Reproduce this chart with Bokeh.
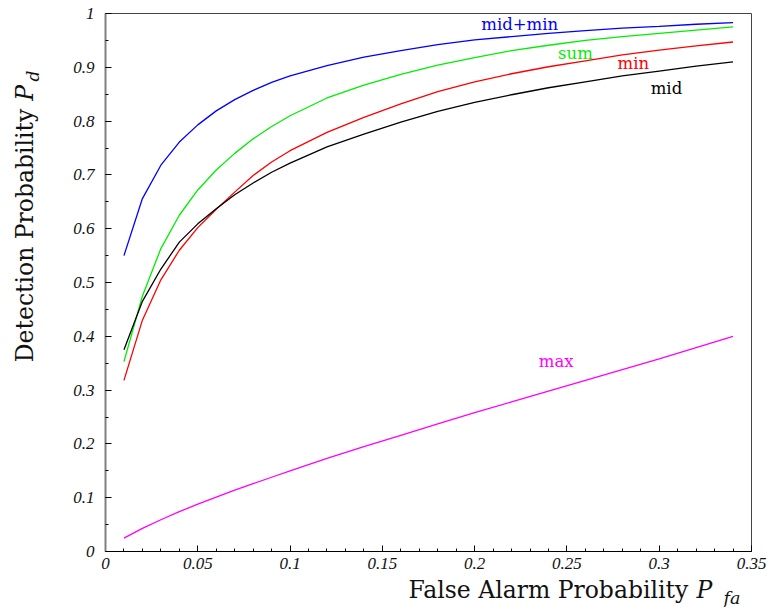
import math
from bokeh.plotting import figure
from bokeh.layouts import row, column
from bokeh.models import Range1d, FixedTicker, CustomJSTickFormatter, Label
from bokeh.embed import file_html
from bokeh.resources import INLINE

# ---- data ----
pfa = [0.01, 0.02, 0.03, 0.04, 0.05, 0.06, 0.07, 0.08, 0.09, 0.10,
       0.12, 0.14, 0.16, 0.18, 0.20, 0.22, 0.24, 0.26, 0.28, 0.30, 0.32, 0.34]
pd_midmin = [0.550, 0.656, 0.718, 0.761, 0.793, 0.819, 0.840, 0.857, 0.872, 0.884,
             0.903, 0.919, 0.931, 0.942, 0.951, 0.957, 0.963, 0.968, 0.973, 0.976, 0.980, 0.983]
pd_sum = [0.353, 0.475, 0.563, 0.625, 0.672, 0.709, 0.740, 0.767, 0.790, 0.810,
          0.843, 0.867, 0.887, 0.904, 0.918, 0.931, 0.941, 0.950, 0.957, 0.963, 0.969, 0.975]
pd_min = [0.318, 0.430, 0.505, 0.560, 0.602, 0.636, 0.668, 0.699, 0.724, 0.745,
          0.779, 0.807, 0.832, 0.855, 0.873, 0.888, 0.901, 0.912, 0.923, 0.932, 0.940, 0.947]
pd_mid = [0.375, 0.465, 0.525, 0.575, 0.609, 0.637, 0.663, 0.685, 0.705, 0.722,
          0.752, 0.776, 0.798, 0.818, 0.835, 0.849, 0.862, 0.873, 0.884, 0.893, 0.902, 0.910]
pd_max = [0.025, 0.043, 0.059, 0.074, 0.088, 0.101, 0.114, 0.126, 0.138, 0.150,
          0.173, 0.195, 0.216, 0.237, 0.258, 0.278, 0.298, 0.318, 0.338, 0.358, 0.379, 0.400]

x_major = [0, 0.05, 0.10, 0.15, 0.20, 0.25, 0.30, 0.35]
x_minor = [i / 100 for i in range(0, 36)]
y_major = [i / 10 for i in range(0, 11)]
y_minor = [i / 20 for i in range(0, 21)]

series = [
    ("mid+min", pd_midmin, "#0000ff", 0.2036, 0.9796),
    ("sum", pd_sum, "#00ee00", 0.2452, 0.9256),
    ("min", pd_min, "#ff0000", 0.2774, 0.9070),
    ("mid", pd_mid, "#000000", 0.2954, 0.8605),
    ("max", pd_max, "#ff00ff", 0.2348, 0.3534),
]

LEFT_W = 45
MAIN_H = 577
BOTTOM_H = 607 - MAIN_H

p = figure(width=770 - LEFT_W, height=MAIN_H, output_backend="svg", toolbar_location=None,
           x_range=Range1d(0, 0.35), y_range=Range1d(0, 1),
           min_border_left=105 - LEFT_W, min_border_right=19, min_border_top=13,
           min_border_bottom=MAIN_H - 551)
p.grid.visible = False
p.outline_line_color = "#444444"
p.outline_line_width = 1
p.background_fill_color = "white"
p.border_fill_color = "white"

fmt = CustomJSTickFormatter(code="return String(Number(tick.toFixed(2)));")
for ax, maj, mnr in ((p.xaxis[0], x_major, x_minor), (p.yaxis[0], y_major, y_minor)):
    ax.ticker = FixedTicker(ticks=maj, minor_ticks=mnr)
    ax.formatter = fmt
    ax.major_tick_in = 6
    ax.major_tick_out = 0
    ax.minor_tick_in = 3
    ax.minor_tick_out = 0
    ax.major_tick_line_color = "black"
    ax.minor_tick_line_color = "black"
    ax.major_label_text_font = "Liberation Serif"
    ax.major_label_text_font_style = "italic"
    ax.major_label_text_font_size = "17px"
    ax.major_label_text_color = "#111111"
p.xaxis.major_label_standoff = 6
p.yaxis.major_label_standoff = 11
p.xaxis.axis_line_color = "black"
p.xaxis.axis_line_width = 1
p.yaxis.axis_line_color = "#808080"
p.yaxis.axis_line_width = 2

for name, ys, col, lx, ly in series:
    p.line(pfa, ys, line_color=col, line_width=1.3)
    p.add_layout(Label(x=lx, y=ly, text=name, text_color=col, text_font="DejaVu Serif",
                       text_font_size="16.5px", text_align="left", text_baseline="alphabetic"))

lab_font = "DejaVu Serif"
ink = "#111111"


def holder(w, h):
    f = figure(width=w, height=h, output_backend="svg", toolbar_location=None,
               x_range=Range1d(0, w), y_range=Range1d(0, h),
               x_axis_location=None, y_axis_location=None, min_border=0)
    f.grid.visible = False
    f.outline_line_color = None
    f.background_fill_color = "white"
    f.border_fill_color = "white"
    return f


# y-axis label strip (left)
ly = holder(LEFT_W, MAIN_H)
ly.add_layout(Label(x=24.5, y=MAIN_H - 374, text="Detection Probability", text_font=lab_font,
                    text_font_size="23.5px", text_color=ink, text_align="left",
                    text_baseline="alphabetic", angle=math.pi / 2))
ly.add_layout(Label(x=24.5, y=MAIN_H - 93.5, text="P", text_font=lab_font, text_font_style="italic",
                    text_font_size="23.5px", text_color=ink, text_align="left",
                    text_baseline="alphabetic", angle=math.pi / 2))
ly.add_layout(Label(x=32, y=MAIN_H - 73, text="d", text_font=lab_font, text_font_style="italic",
                    text_font_size="17px", text_color=ink, text_align="left",
                    text_baseline="alphabetic", angle=math.pi / 2))

# x-axis label strip (bottom)
lx = holder(770, BOTTOM_H)
lx.add_layout(Label(x=408, y=BOTTOM_H - (589.7 - MAIN_H), text="False Alarm Probability",
                    text_font=lab_font, text_font_size="23.5px", text_color=ink,
                    text_align="left", text_baseline="alphabetic"))
lx.add_layout(Label(x=696, y=BOTTOM_H - (589.7 - MAIN_H), text="P", text_font=lab_font,
                    text_font_style="italic", text_font_size="23.5px", text_color=ink,
                    text_align="left", text_baseline="alphabetic"))
lx.add_layout(Label(x=723, y=BOTTOM_H - (597 - MAIN_H), text="fa", text_font=lab_font,
                    text_font_style="italic", text_font_size="17.5px", text_color=ink,
                    text_align="left", text_baseline="alphabetic"))

layout = column(row(ly, p, spacing=0), lx, spacing=0)
open("out.html", "w").write(file_html(layout, INLINE))
